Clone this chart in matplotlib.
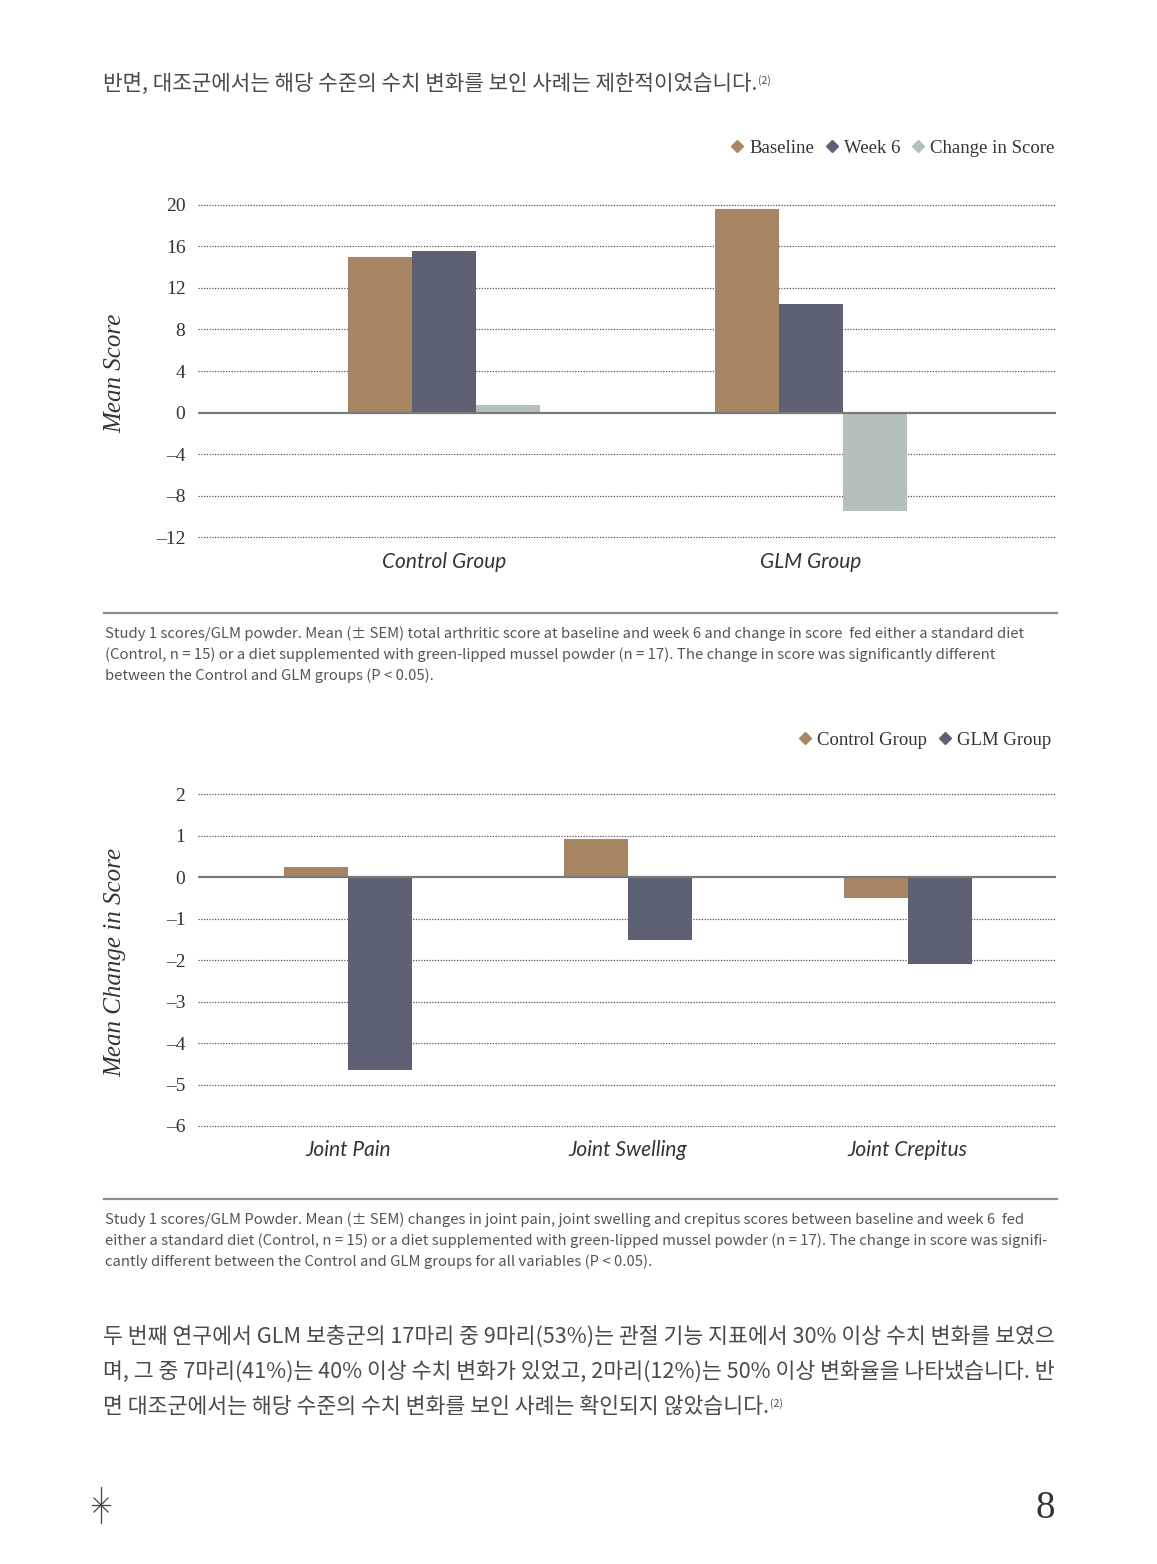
import matplotlib
matplotlib.use("Agg")
import matplotlib.pyplot as plt
from matplotlib.lines import Line2D

W, H = 1157, 1564

# chart 1 data
groups = ["Control Group", "GLM Group"]
baseline = [15.0, 19.6]
week6 = [15.6, 10.5]
change = [0.7, -9.5]
ticks1 = [-12, -8, -4, 0, 4, 8, 12, 16, 20]

# chart 2 data
joints = ["Joint Pain", "Joint Swelling", "Joint Crepitus"]
control_chg = [0.24, 0.92, -0.5]
glm_chg = [-4.65, -1.52, -2.1]
ticks2 = [-6, -5, -4, -3, -2, -1, 0, 1, 2]

c_base = "#a98663"
c_week = "#5c6174"
c_chg = "#b6c0ba"

kr = ["Noto Sans CJK KR", "DejaVu Sans"]
serif = ["Liberation Serif", "DejaVu Serif"]
cat_font = ["Lato", "DejaVu Sans"]


def fx(x):
    return x / W


def fy(y):
    return 1 - y / H


def style_axes(ax, ticks, xpad):
    for s in ax.spines.values():
        s.set_visible(False)
    ax.tick_params(length=0)
    ax.set_yticks(ticks)
    ax.set_yticklabels([str(t).replace("-", "\u2013") for t in ticks],
                       family=serif, fontsize=14, color="#333333")
    ax.tick_params(axis="y", pad=9)
    ax.tick_params(axis="x", pad=xpad)
    for t in ticks:
        if t == 0:
            ax.axhline(0, color="#7a7a7a", lw=1.6, zorder=3)
        else:
            ax.axhline(t, color="#555555", lw=0.9, ls=(0, (1, 1.2)), zorder=0)


fig = plt.figure(figsize=(W / 100, H / 100), dpi=100)

# ---------- chart 1 ----------
ax1 = fig.add_axes([fx(198), fy(541.2), (1056 - 198) / W, (541.2 - 200.8) / H])
x1 = list(range(len(groups)))
bw = 0.175
ax1.bar([x - bw for x in x1], baseline, bw, color=c_base, zorder=2)
ax1.bar(x1, week6, bw, color=c_week, zorder=2)
ax1.bar([x + bw for x in x1], change, bw, color=c_chg, zorder=2)
ax1.set_xlim(-0.67, 1.668)
ax1.set_ylim(-12.4, 20.4)
style_axes(ax1, ticks1, 8)
ax1.set_xticks(x1)
ax1.set_xticklabels(groups, family=cat_font, style="italic", fontsize=15, color="#333333")
fig.text(fx(115), fy(373), "Mean Score", rotation=90, ha="center", va="center",
         family=serif, style="italic", fontsize=18, color="#333333")

h1 = [Line2D([], [], ls="none", marker="D", markersize=6, color=c) for c in (c_base, c_week, c_chg)]
fig.legend(h1, ["Baseline", "Week 6", "Change in Score"], loc="center right",
           bbox_to_anchor=(fx(1064), fy(148)), ncol=3, frameon=False,
           prop={"family": serif, "size": 13.5}, labelcolor="#333333",
           handlelength=0.7, handletextpad=0.3, columnspacing=0.6, borderpad=0)

# ---------- chart 2 ----------
ax2 = fig.add_axes([fx(198), fy(1134.3), (1056 - 198) / W, (1134.3 - 785.7) / H])
x2 = list(range(len(joints)))
bw2 = 0.229
ax2.bar([x - bw2 for x in x2], control_chg, bw2, align="edge", color=c_base, zorder=2)
ax2.bar(x2, glm_chg, bw2, align="edge", color=c_week, zorder=2)
ax2.set_xlim(-0.538, 2.531)
ax2.set_ylim(-6.2, 2.2)
style_axes(ax2, ticks2, 4)
ax2.set_xticks(x2)
ax2.set_xticklabels(joints, family=cat_font, style="italic", fontsize=15, color="#333333")
fig.text(fx(115), fy(962), "Mean Change in Score", rotation=90, ha="center", va="center",
         family=serif, style="italic", fontsize=18, color="#333333")

h2 = [Line2D([], [], ls="none", marker="D", markersize=6, color=c) for c in (c_base, c_week)]
fig.legend(h2, ["Control Group", "GLM Group"], loc="center right",
           bbox_to_anchor=(fx(1061), fy(740)), ncol=2, frameon=False,
           prop={"family": serif, "size": 13.5}, labelcolor="#333333",
           handlelength=0.7, handletextpad=0.3, columnspacing=0.6, borderpad=0)

# ---------- rules and captions ----------
for yy in (613, 1199):
    fig.add_artist(Line2D([fx(104), fx(1057)], [fy(yy), fy(yy)], color="#8a8a8a", lw=1.6))

cap1 = ["Study 1 scores/GLM powder. Mean (\u00b1 SEM) total arthritic score at baseline and week 6 and change in score  fed either a standard diet",
        "(Control, n = 15) or a diet supplemented with green-lipped mussel powder (n = 17). The change in score was significantly different",
        "between the Control and GLM groups (P < 0.05)."]
cap2 = ["Study 1 scores/GLM Powder. Mean (\u00b1 SEM) changes in joint pain, joint swelling and crepitus scores between baseline and week 6  fed",
        "either a standard diet (Control, n = 15) or a diet supplemented with green-lipped mussel powder (n = 17). The change in score was signifi-",
        "cantly different between the Control and GLM groups for all variables (P < 0.05)."]
for i, s in enumerate(cap1):
    fig.text(fx(105), fy(634 + 21 * i), s, ha="left", va="center", family=kr,
             fontsize=10.7, color="#555555", weight="light")
for i, s in enumerate(cap2):
    fig.text(fx(105), fy(1220 + 21 * i), s, ha="left", va="center", family=kr,
             fontsize=10.7, color="#555555", weight="light")

# ---------- body text ----------
body_top = "반면, 대조군에서는 해당 수준의 수치 변화를 보인 사례는 제한적이었습니다."
body = ["두 번째 연구에서 GLM 보충군의 17마리 중 9마리(53%)는 관절 기능 지표에서 30% 이상 수치 변화를 보였으",
        "며, 그 중 7마리(41%)는 40% 이상 수치 변화가 있었고, 2마리(12%)는 50% 이상 변화율을 나타냈습니다. 반",
        "면 대조군에서는 해당 수준의 수치 변화를 보인 사례는 확인되지 않았습니다."]

sup_targets = []
t = fig.text(fx(103), fy(84), body_top, ha="left", va="center", family=kr,
             fontsize=15.3, color="#4a4a4a", weight="light")
sup_targets.append((t, 84))
for i, s in enumerate(body):
    t = fig.text(fx(103), fy(1337 + 35 * i), s, ha="left", va="center", family=kr,
                 fontsize=15.6, color="#4a4a4a", weight="light")
    if i == 2:
        sup_targets.append((t, 1337 + 35 * i))

fig.canvas.draw()
r = fig.canvas.get_renderer()
for t, yy in sup_targets:
    bb = t.get_window_extent(r)
    fig.text(bb.x1 / W + 0.001, fy(yy - 3), "(2)", ha="left", va="center", family=kr,
             fontsize=7.5, color="#4a4a4a", weight="light")

# ---------- footer ----------
cx, cy = 101, 1505
star = [((cx, 1487), (cx, 1523)), ((92, cy), (110, cy)),
        ((94, 1498), (108, 1512)), ((94, 1512), (108, 1498))]
for (a, b) in star:
    fig.add_artist(Line2D([fx(a[0]), fx(b[0])], [fy(a[1]), fy(b[1])], color="#444444", lw=0.9))
fig.text(fx(1055), fy(1508), "8", ha="right", va="center", family=serif,
         fontsize=28, color="#333333")

fig.savefig("out.png", dpi=100)
